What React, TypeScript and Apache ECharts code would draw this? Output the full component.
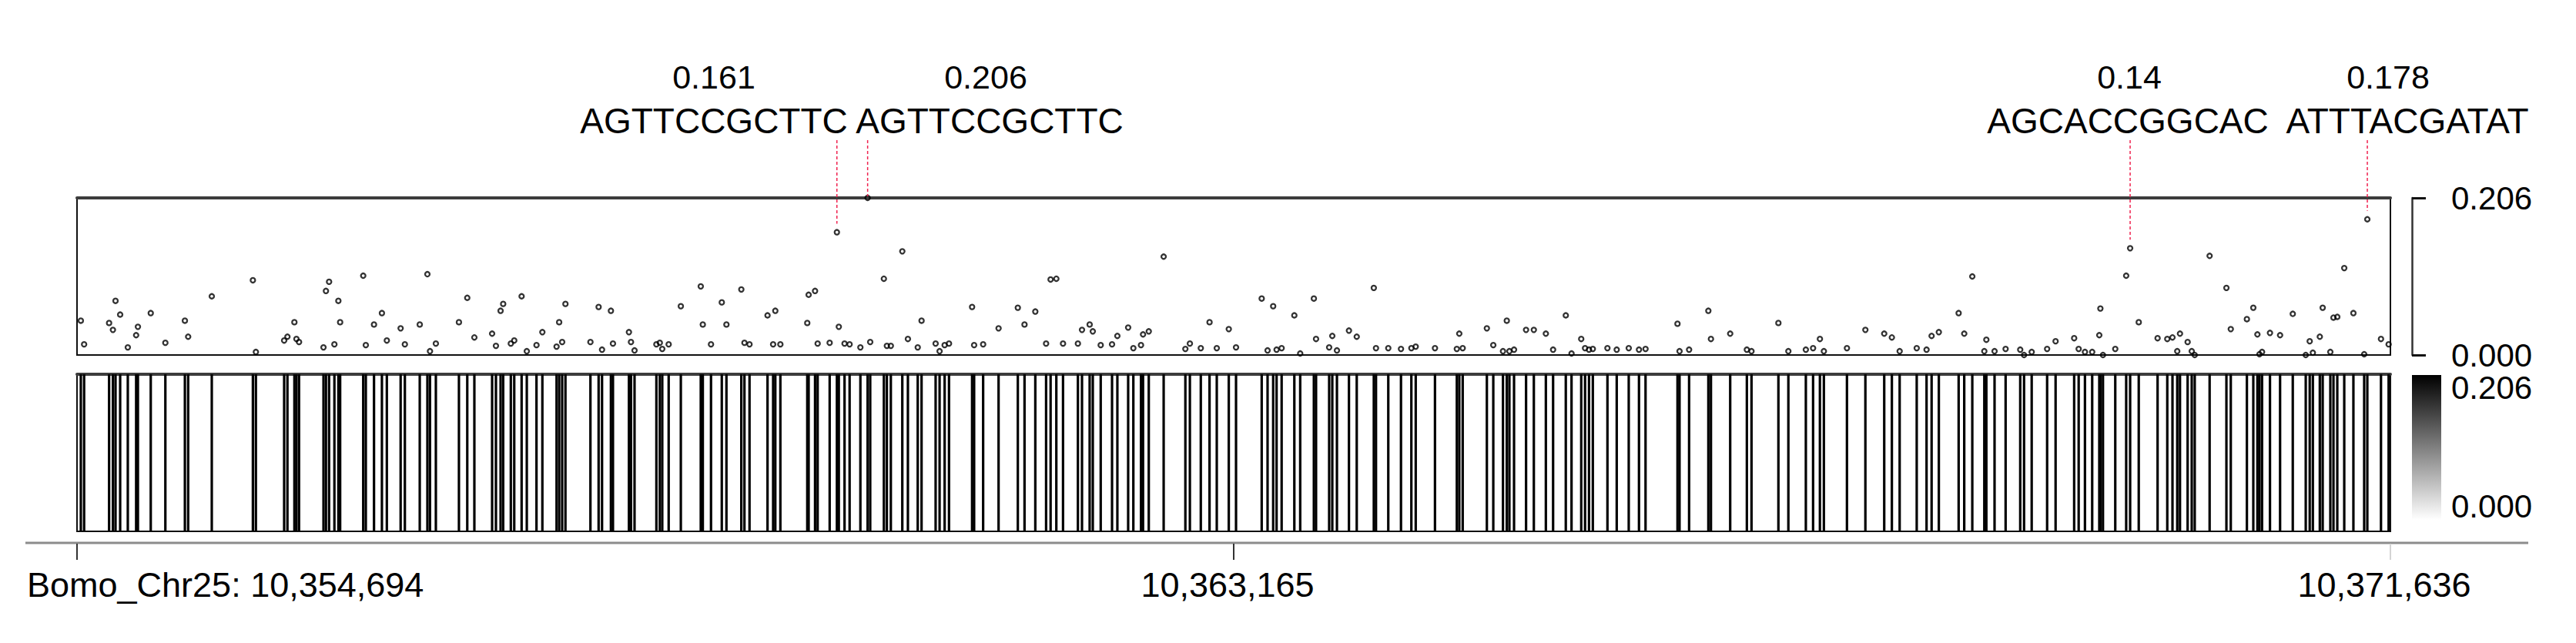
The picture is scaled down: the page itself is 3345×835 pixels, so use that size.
import React, { useEffect, useRef } from "react";
import * as echarts from "echarts";

// ---------------- data ----------------
const CHR_LABEL = "Bomo_Chr25";
const X_MIN = 10354694;
const X_MAX = 10371636;
const xTickValues = [10354694, 10363165, 10371636];
const Y_MAX = 0.206;
const yTickValues = [0, 0.206];
const colorbarLabels = ["0.206", "0.000"];

const snpPositions = [
  10354722, 10354746, 10354929, 10354957, 10354976, 10355010, 10355066, 10355127, 10355140, 10355234,
  10355341, 10355484, 10355508, 10355681, 10355982, 10356004, 10356211, 10356235, 10356286, 10356301,
  10356320, 10356499, 10356517, 10356540, 10356579, 10356608, 10356621, 10356790, 10356809, 10356869,
  10356927, 10356963, 10357064, 10357095, 10357204, 10357260, 10357279, 10357322, 10357491,
  10357552, 10357604, 10357734, 10357762, 10357796, 10357815, 10357871, 10357896, 10357950, 10357988,
  10358059, 10358102, 10358206, 10358225, 10358247, 10358271, 10358454, 10358514, 10358539, 10358604,
  10358619, 10358736, 10358751, 10358777, 10358937, 10358962, 10358980, 10359027, 10359116, 10359262,
  10359277, 10359337, 10359416, 10359450, 10359559, 10359582, 10359619, 10359751, 10359792, 10359808,
  10359845, 10360042, 10360052, 10360099, 10360118, 10360206, 10360259, 10360273, 10360315, 10360352,
  10360431, 10360484, 10360503, 10360603, 10360625, 10360654, 10360738, 10360779, 10360851, 10360879,
  10360982, 10361011, 10361048, 10361080, 10361249, 10361264, 10361330, 10361443, 10361584, 10361633,
  10361712, 10361791, 10361824, 10361866, 10361915, 10362024, 10362054, 10362110, 10362133, 10362191,
  10362274, 10362313, 10362392, 10362430, 10362486, 10362501, 10362543, 10362652, 10362811, 10362844,
  10362924, 10362988, 10363041, 10363129, 10363182,
  10363370, 10363413, 10363454, 10363479, 10363516, 10363609, 10363652, 10363752, 10363768, 10363864,
  10363887, 10363921, 10364009, 10364066, 10364191, 10364207, 10364297, 10364390, 10364466, 10364498,
  10364639, 10364799, 10364817, 10364842, 10365019, 10365066, 10365137, 10365165, 10365184, 10365218,
  10365306, 10365363, 10365451, 10365504, 10365597, 10365639, 10365710, 10365738, 10365767, 10365795,
  10365902, 10365970, 10366058,
  10366133, 10366181, 10366415, 10366430, 10366500, 10366641, 10366660, 10366801, 10366923, 10366957,
  10367154, 10367227, 10367355, 10367408, 10367458, 10367487, 10367656, 10367791, 10367929, 10367985,
  10368042, 10368167, 10368239, 10368276, 10368329, 10368474, 10368515, 10368574, 10368662, 10368677,
  10368737, 10368818, 10368925,
  10368953, 10369009, 10369122, 10369184, 10369320, 10369353, 10369399, 10369452, 10369504, 10369512,
  10369531, 10369621, 10369701, 10369730, 10369793, 10369931, 10370002, 10370040, 10370075, 10370095,
  10370151, 10370181, 10370203, 10370312, 10370435, 10370467, 10370585, 10370632, 10370662, 10370677,
  10370696, 10370754, 10370828, 10370921, 10371016, 10371045, 10371068, 10371119, 10371140, 10371196,
  10371219, 10371247, 10371298, 10371365, 10371444, 10371467, 10371567, 10371623,
];

const snpValues = [
  0.045, 0.014, 0.042, 0.033, 0.071, 0.053, 0.010, 0.026, 0.037, 0.055,
  0.016, 0.045, 0.024, 0.077, 0.098, 0.004, 0.019, 0.024, 0.043, 0.021,
  0.017, 0.010, 0.084, 0.096, 0.014, 0.071, 0.043, 0.104, 0.013, 0.040,
  0.055, 0.019, 0.035, 0.014, 0.040, 0.106, 0.005, 0.015, 0.043,
  0.075, 0.023, 0.028, 0.012, 0.058, 0.067, 0.015, 0.019, 0.077, 0.005,
  0.013, 0.030, 0.011, 0.043, 0.017, 0.067, 0.017, 0.063, 0.007, 0.058,
  0.015, 0.030, 0.017, 0.006, 0.014, 0.016, 0.008, 0.014, 0.064, 0.090,
  0.040, 0.014, 0.069, 0.040, 0.086, 0.016, 0.014, 0.052, 0.014, 0.058,
  0.014, 0.042, 0.079, 0.084, 0.015, 0.016, 0.161, 0.037, 0.015, 0.014,
  0.010, 0.206, 0.017, 0.100, 0.012, 0.012, 0.136, 0.021, 0.010, 0.045,
  0.015, 0.005, 0.013, 0.015, 0.063, 0.013, 0.014, 0.035, 0.062, 0.040,
  0.057, 0.015, 0.099, 0.100, 0.015, 0.015, 0.033, 0.040, 0.031, 0.013,
  0.014, 0.025, 0.036, 0.009, 0.013, 0.027, 0.031, 0.129, 0.008, 0.015,
  0.009, 0.043, 0.009, 0.034, 0.010,
  0.074, 0.006, 0.064, 0.007, 0.009, 0.052, 0.002, 0.074, 0.021, 0.010,
  0.025, 0.006, 0.032, 0.024, 0.088, 0.009, 0.009, 0.008, 0.009, 0.011,
  0.009, 0.008, 0.028, 0.009, 0.035, 0.013, 0.005, 0.045, 0.005, 0.007,
  0.033, 0.033, 0.028, 0.007, 0.052, 0.002, 0.021, 0.009, 0.007, 0.008,
  0.009, 0.007, 0.009,
  0.007, 0.008, 0.041, 0.005, 0.007, 0.058, 0.021, 0.028, 0.007, 0.005,
  0.042, 0.005, 0.007, 0.009, 0.021, 0.005, 0.009, 0.033, 0.028, 0.023,
  0.005, 0.009, 0.007, 0.025, 0.030, 0.055, 0.028, 0.103, 0.005, 0.020,
  0.005, 0.008, 0.007,
  0.000, 0.004, 0.008, 0.018, 0.022, 0.008, 0.004, 0.004, 0.026, 0.061,
  0.000, 0.008, 0.104, 0.140, 0.043, 0.022, 0.021, 0.023, 0.005, 0.028,
  0.017, 0.005, 0.000, 0.130, 0.088, 0.034, 0.047, 0.062, 0.027, 0.001,
  0.004, 0.029, 0.026, 0.054, 0.000, 0.018, 0.003, 0.024, 0.062, 0.004,
  0.049, 0.050, 0.114, 0.055, 0.001, 0.178, 0.021, 0.014,
];

const peakPositions = [10360259, 10360484, 10369730, 10371467];
const peakValues = [0.161, 0.206, 0.14, 0.178];
const peakSequences = ["AGTTCCGCTTC", "AGTTCCGCTTC", "AGCACCGGCAC", "ATTTACGATAT"];

// ---------------- layout ----------------
const W = 3345;
const H = 835;
const PLOT_LEFT = 100;
const PLOT_WIDTH = 3004;
const SCATTER_TOP = 257;
const SCATTER_H = 204;
const HEAT_TOP = 486;
const HEAT_H = 204;
const AXIS_Y = 705;
const valueLabelX = [927, 1280, 2765, 3101];
const seqLabelX = [927, 1285, 2763, 3126];
const FONT = '"Liberation Sans", Arial, Helvetica, sans-serif';

const fmtNum = (v: number) => String(v).replace(/\B(?=(\d{3})+(?!\d))/g, ",");

export default function App() {
  const ref = useRef<HTMLDivElement>(null);

  useEffect(() => {
    if (!ref.current) return;
    const chart = echarts.init(ref.current, null, { renderer: "svg" });
    const snpData = snpPositions.map((p, i) => [p, snpValues[i]]);

    const hiddenX = (gridIndex: number) => ({
      gridIndex,
      type: "value",
      min: X_MIN,
      max: X_MAX,
      position: "top",
      axisLine: { show: true, onZero: false, lineStyle: { color: "#3c3c3c", width: 4 } },
      axisTick: { show: false },
      axisLabel: { show: false },
      splitLine: { show: false },
    });

    chart.setOption({
      animation: false,
      backgroundColor: "#ffffff",
      grid: [
        { left: PLOT_LEFT, top: SCATTER_TOP, width: PLOT_WIDTH, height: SCATTER_H, show: true, borderColor: "#111", borderWidth: 2 },
        { left: PLOT_LEFT, top: HEAT_TOP, width: PLOT_WIDTH, height: HEAT_H, show: true, borderColor: "#111", borderWidth: 2 },
      ],
      xAxis: [hiddenX(0), hiddenX(1)],
      yAxis: [
        { gridIndex: 0, type: "value", min: 0, max: Y_MAX, show: false },
        {
          gridIndex: 0,
          type: "value",
          min: 0,
          max: Y_MAX,
          interval: Y_MAX,
          position: "right",
          offset: 28,
          axisLine: { show: true, lineStyle: { color: "#333", width: 2.5 } },
          axisTick: { show: true, length: 18, lineStyle: { color: "#111", width: 3 } },
          axisLabel: {
            show: true,
            margin: 51,
            color: "#000",
            fontSize: 42,
            lineHeight: 36,
            fontFamily: FONT,
            padding: [0, 0, 18, 0],
            formatter: (v: number) => v.toFixed(3),
            customValues: yTickValues,
          },
          splitLine: { show: false },
        },
        { gridIndex: 1, type: "value", min: 0, max: 1, show: false },
      ],
      series: [
        {
          type: "scatter",
          xAxisIndex: 0,
          yAxisIndex: 0,
          data: snpData,
          symbol: "circle",
          symbolSize: 6,
          clip: false,
          silent: true,
          itemStyle: { color: "rgba(255,255,255,0)", borderColor: "#000", borderWidth: 2.3 },
          z: 5,
        },
        {
          type: "custom",
          xAxisIndex: 1,
          yAxisIndex: 2,
          data: snpData,
          silent: true,
          renderItem: (params: any, api: any) => {
            const p0 = api.coord([api.value(0), 0]);
            const p1 = api.coord([api.value(0), 1]);
            return {
              type: "rect",
              shape: { x: p0[0] - 1.6, y: p1[1], width: 3.2, height: p0[1] - p1[1] },
              style: { fill: "#000" },
            };
          },
        },
      ],
    });

    const px = (v: number) => chart.convertToPixel({ xAxisIndex: 1 }, v) as number;
    const py = (v: number) => chart.convertToPixel({ yAxisIndex: 0 }, v) as number;

    const graphics: any[] = [];
    // bottom genomic axis
    graphics.push({
      type: "line",
      shape: { x1: 33, y1: AXIS_Y, x2: 3283, y2: AXIS_Y },
      style: { stroke: "#8c8c8c", lineWidth: 3 },
    });
    xTickValues.forEach((v, i) => {
      const x = px(v);
      graphics.push({
        type: "line",
        shape: { x1: x, y1: AXIS_Y + 1, x2: x, y2: AXIS_Y + 22 },
        style: { stroke: i === xTickValues.length - 1 ? "#d4d4d4" : "#333", lineWidth: 2 },
      });
      graphics.push({
        type: "text",
        x: i === 0 ? x - 65 : x - 8,
        y: 759,
        style: {
          text: i === 0 ? `${CHR_LABEL}: ${fmtNum(v)}` : fmtNum(v),
          font: `45px ${FONT}`,
          fill: "#000",
          textAlign: i === 0 ? "left" : "center",
          textVerticalAlign: "middle",
        },
      });
    });
    // peak annotations
    peakPositions.forEach((p, i) => {
      const x = px(p);
      const yPoint = py(peakValues[i]);
      const yEnd = peakValues[i] >= Y_MAX ? SCATTER_TOP - 2 : yPoint - 11;
      graphics.push({
        type: "line",
        shape: { x1: x, y1: 182, x2: x, y2: yEnd },
        style: { stroke: "#f0224f", lineWidth: 1.5, lineDash: [4, 3] },
        z: 10,
      });
      graphics.push({
        type: "text",
        x: valueLabelX[i],
        y: 100,
        style: { text: String(peakValues[i]), font: `43px ${FONT}`, fill: "#000", textAlign: "center", textVerticalAlign: "middle" },
      });
      graphics.push({
        type: "text",
        x: seqLabelX[i],
        y: 157,
        style: { text: peakSequences[i], font: `46px ${FONT}`, fill: "#000", textAlign: "center", textVerticalAlign: "middle" },
      });
    });
    // colour bar legend
    graphics.push({
      type: "rect",
      shape: { x: 3132, y: 487, width: 38, height: 188 },
      style: {
        fill: new echarts.graphic.LinearGradient(0, 0, 0, 1, [
          { offset: 0, color: "#000000" },
          { offset: 1, color: "#ffffff" },
        ]),
      },
    });
    colorbarLabels.forEach((t, i) => {
      graphics.push({
        type: "text",
        x: 3183,
        y: i === 0 ? 503 : 657,
        style: { text: t, font: `42px ${FONT}`, lineHeight: 36, fill: "#000", textAlign: "left", textVerticalAlign: "middle" },
      });
    });

    chart.setOption({ graphic: graphics });

    return () => chart.dispose();
  }, []);

  return <div ref={ref} style={{ position: "absolute", left: 0, top: 0, width: W, height: H }} />;
}
